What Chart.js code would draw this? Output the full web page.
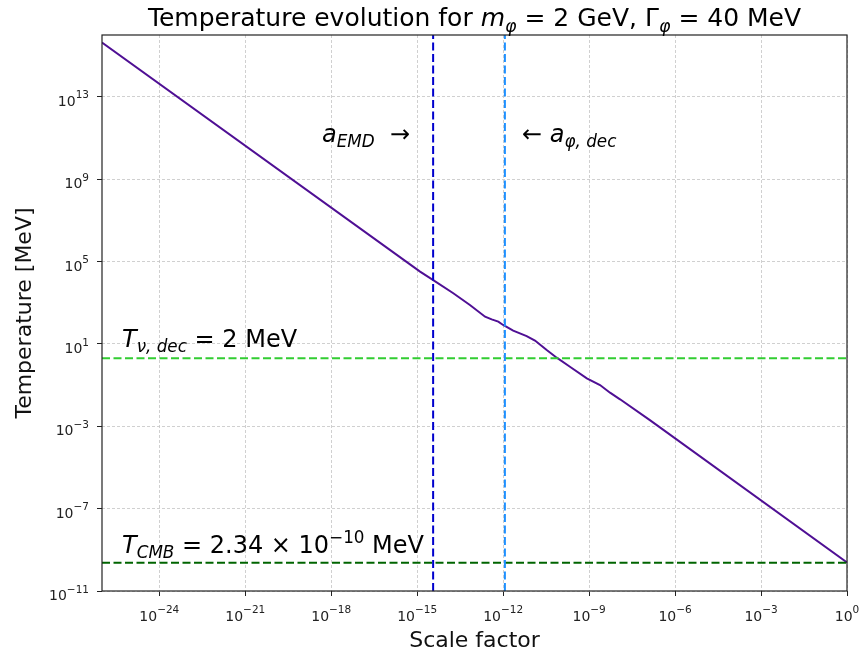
<!DOCTYPE html>
<html>
<head>
<meta charset="utf-8">
<script src="https://cdn.jsdelivr.net/npm/chart.js@4.4.1/dist/chart.umd.min.js"></script>
<style>
  body { margin: 0; background: #fff; }
  canvas { display: block; }
</style>
</head>
<body>
<canvas id="temp" width="861" height="656"></canvas>
<script>
// temperature curve
var scaleFactor = [1e-26, 1.26e-15, 3.63e-15, 1.82e-14, 6.92e-14, 2.34e-13, 3.98e-13, 6.76e-13, 1.0e-12,
  2.24e-12, 6.61e-12, 1.29e-11, 3.31e-11, 7.41e-11, 2.14e-10, 8.32e-10, 2.40e-9, 5.37e-9, 1.20e-8, 1.32e-7, 1];
var temperature = [4.27e15, 3.24e4, 1.26e4, 2.88e3, 776, 209, 155, 120, 83,
  43.7, 24, 14.5, 5.0, 2.14, 0.78, 0.214, 0.10, 0.0427, 0.0204, 2.0e-3, 2.45e-10];

// reference lines
var aEMD = 3.6e-15;
var aDec = 1.15e-12;
var Tnu = 2;
var Tcmb = 2.34e-10;

// axes
var xRange = [1e-26, 1];
var yRange = [1e-11, 1e16];
var xTicks = [1e-24, 1e-21, 1e-18, 1e-15, 1e-12, 1e-9, 1e-6, 1e-3, 1e0];
var yTicks = [1e-11, 1e-7, 1e-3, 1e1, 1e5, 1e9, 1e13];

function expOf(v) {
  var e = Math.round(Math.log10(v));
  return String(e).replace('-', '\u2212');
}

var FONT = '"DejaVu Sans", sans-serif';
Chart.defaults.font.family = FONT;

// draws mixed normal / italic / sub / sup text, like matplotlib mathtext
function richText(ctx, segs, x, y, size, align, supK, supRise) {
  supK = supK || 0.7;
  supRise = supRise || 0.42;
  var parts = segs.map(function(s) {
    if (typeof s === 'string') s = {t: s};
    var sz = s.sub ? size * 0.7 : (s.sup ? size * supK : size);
    var font = (s.it ? 'italic ' : '') + sz + 'px ' + FONT;
    ctx.font = font;
    return {t: s.t, font: font, w: ctx.measureText(s.t).width,
      dy: s.sub ? size * 0.22 : (s.sup ? -size * supRise : 0)};
  });
  var total = parts.reduce(function(a, p) { return a + p.w; }, 0);
  var cx = x;
  if (align === 'center') cx = x - total / 2;
  if (align === 'right') cx = x - total;
  ctx.textAlign = 'left';
  ctx.textBaseline = 'alphabetic';
  parts.forEach(function(p) {
    ctx.font = p.font;
    ctx.fillText(p.t, cx, y + p.dy);
    cx += p.w;
  });
}

var extras = {
  id: 'extras',
  afterDraw: function(chart) {
    var ctx = chart.ctx, a = chart.chartArea;
    var sx = chart.scales.x, sy = chart.scales.y;
    ctx.save();
    // frame
    ctx.strokeStyle = '#222';
    ctx.lineWidth = 1.2;
    ctx.setLineDash([]);
    ctx.strokeRect(a.left, a.top, a.right - a.left, a.bottom - a.top);

    ctx.fillStyle = '#222';
    // tick labels 10^n
    sx.ticks.forEach(function(t) {
      richText(ctx, ['10', {t: expOf(t.value), sup: 1}], sx.getPixelForValue(t.value), a.bottom + 29.5, 14, 'center', 0.75, 0.52);
    });
    sy.ticks.forEach(function(t) {
      richText(ctx, ['10', {t: expOf(t.value), sup: 1}], a.left - 13, sy.getPixelForValue(t.value) + 9, 14, 'right', 0.75, 0.52);
    });

    ctx.fillStyle = '#000';
    // title
    richText(ctx, ['Temperature evolution for ', {t: 'm', it: 1}, {t: '\u03C6', it: 1, sub: 1},
      ' = 2 GeV, \u0393', {t: '\u03C6', it: 1, sub: 1}, ' = 40 MeV'],
      (a.left + a.right) / 2, 26, 25, 'center');

    // annotations
    richText(ctx, [{t: 'a', it: 1}, {t: 'EMD', it: 1, sub: 1}, '  \u2192'], a.left + 220, a.top + 107, 24);
    richText(ctx, ['\u2190 ', {t: 'a', it: 1}, {t: '\u03C6, dec', it: 1, sub: 1}], a.left + 420, a.top + 107, 24);
    richText(ctx, [{t: 'T', it: 1}, {t: '\u03BD, dec', it: 1, sub: 1}, ' = 2 MeV'], a.left + 20, a.top + 312, 24);
    richText(ctx, [{t: 'T', it: 1}, {t: 'CMB', it: 1, sub: 1}, ' = 2.34 \u00D7 10', {t: '\u221210', sup: 1}, ' MeV'],
      a.left + 20, a.top + 518, 24);
    ctx.restore();
  }
};

function dashed(label, pts, color, order) {
  return {
    label: label,
    data: pts,
    borderColor: color,
    borderWidth: 2,
    borderDash: [8, 3.5],
    pointRadius: 0,
    fill: false,
    order: order
  };
}

var curve = scaleFactor.map(function(a, i) { return {x: a, y: temperature[i]}; });

var ctx = document.getElementById('temp').getContext('2d');

var myLineChart = new Chart(ctx, {
  type: 'line',
  data: {
    datasets: [
      {
        label: 'T',
        data: curve,
        borderColor: '#4f0f94',
        borderWidth: 2,
        pointRadius: 0,
        tension: 0,
        fill: false,
        order: 5
      },
      dashed('a_EMD', [{x: aEMD, y: yRange[0]}, {x: aEMD, y: yRange[1]}], '#0000cd', 1),
      dashed('a_dec', [{x: aDec, y: yRange[0]}, {x: aDec, y: yRange[1]}], '#1e90ff', 1),
      dashed('T_nu', [{x: xRange[0], y: Tnu}, {x: xRange[1], y: Tnu}], '#32cd32', 1),
      dashed('T_CMB', [{x: xRange[0], y: Tcmb}, {x: xRange[1], y: Tcmb}], '#006400', 1)
    ]
  },
  options: {
    responsive: false,
    animation: false,
    layout: { padding: { top: 35, right: 14, bottom: 0, left: 0 } },
    plugins: {
      legend: { display: false },
      tooltip: { enabled: false }
    },
    scales: {
      x: {
        type: 'logarithmic',
        min: xRange[0],
        max: xRange[1],
        afterBuildTicks: function(s) { s.ticks = xTicks.map(function(v) { return {value: v}; }); },
        afterFit: function(s) { s.height = 65; s.paddingLeft = 0; s.paddingRight = 0; },
        ticks: { display: false, autoSkip: false, maxRotation: 0 },
        grid: { color: '#c4c4c4', lineWidth: 0.8, tickColor: '#222', tickLength: 5, tickWidth: 1, tickBorderDash: [] },
        border: { display: false, dash: [3, 2] },
        title: { display: true, text: 'Scale factor', color: '#111', font: { size: 22 }, padding: { top: 0, bottom: 2 } }
      },
      y: {
        type: 'logarithmic',
        min: yRange[0],
        max: yRange[1],
        afterBuildTicks: function(s) { s.ticks = yTicks.map(function(v) { return {value: v}; }); },
        afterFit: function(s) { s.width = 102; s.paddingTop = 0; s.paddingBottom = 0; },
        ticks: { display: false, autoSkip: false },
        grid: { color: '#c4c4c4', lineWidth: 0.8, tickColor: '#222', tickLength: 5, tickWidth: 1, tickBorderDash: [] },
        border: { display: false, dash: [3, 2] },
        title: { display: true, text: 'Temperature [MeV]', color: '#111', font: { size: 22 }, padding: { top: 12, bottom: 0 } }
      }
    }
  },
  plugins: [extras]
});
</script>
</body>
</html>
